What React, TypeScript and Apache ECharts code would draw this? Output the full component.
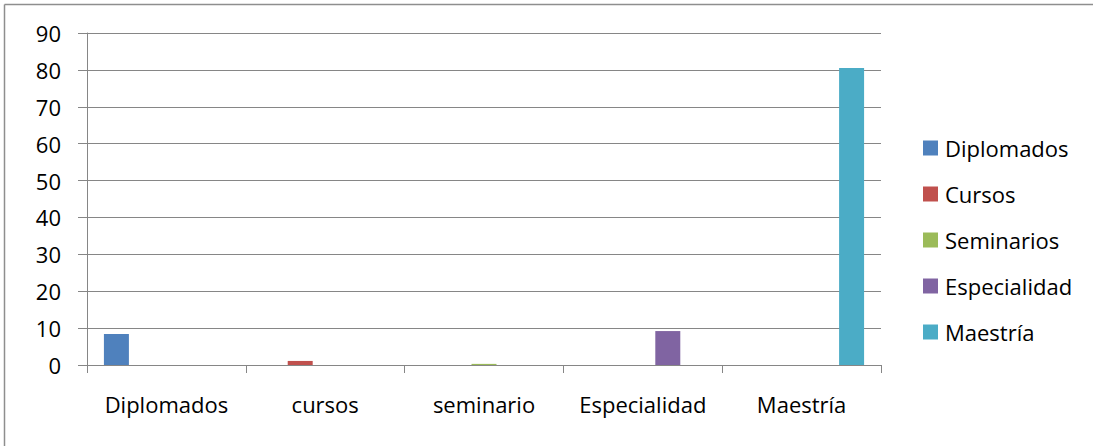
import React, { useEffect, useRef } from "react";
import * as echarts from "echarts";

const categories = ["Diplomados", "cursos", "seminario", "Especialidad", "Maestría"];
const seriesNames = ["Diplomados", "Cursos", "Seminarios", "Especialidad", "Maestría"];
const diplomados = [8.4, 0, 0, 0, 0];
const cursos = [0, 1.1, 0, 0, 0];
const seminarios = [0, 0, 0.3, 0, 0];
const especialidad = [0, 0, 0, 9.2, 0];
const maestria = [0, 0, 0, 0, 80.5];
const colors = ["#4F81BD", "#C0504D", "#9BBB59", "#8064A2", "#4BACC6"];

const FONT = "'Open Sans', 'Noto Sans', sans-serif";

export default function App() {
  const ref = useRef<HTMLDivElement>(null);
  useEffect(() => {
    document.body.style.margin = "0";
    if (!ref.current) return;
    const chart = echarts.init(ref.current, null, { renderer: "svg" });
    const values = [diplomados, cursos, seminarios, especialidad, maestria];
    chart.setOption({
      animation: false,
      backgroundColor: "#ffffff",
      textStyle: { fontFamily: FONT },
      graphic: [
        { type: "line", shape: { x1: 4.5, y1: 4.5, x2: 1093, y2: 4.5 }, style: { stroke: "#8e8e8e", lineWidth: 1.5 } },
        { type: "line", shape: { x1: 4.5, y1: 4.5, x2: 4.5, y2: 446 }, style: { stroke: "#8e8e8e", lineWidth: 1.5 } },
      ],
      grid: { left: 87, right: 212, top: 33, bottom: 81, containLabel: false },
      legend: {
        orient: "vertical",
        left: 923,
        top: 137,
        padding: 0,
        icon: "rect",
        itemWidth: 15,
        itemHeight: 15,
        itemGap: 24,
        data: seriesNames,
        textStyle: { fontFamily: FONT, fontSize: 22, color: "#000", lineHeight: 22, padding: [0, 0, 0, 2] },
      },
      xAxis: {
        type: "category",
        data: categories,
        axisLine: { lineStyle: { color: "#868686", width: 1 } },
        axisTick: { show: true, length: 8, alignWithLabel: false, lineStyle: { color: "#868686" } },
        axisLabel: { fontFamily: FONT, fontSize: 22, color: "#000", margin: 28, interval: 0 },
      },
      yAxis: {
        type: "value",
        min: 0,
        max: 90,
        interval: 10,
        axisLine: { show: true, lineStyle: { color: "#868686", width: 1 } },
        axisTick: { show: true, length: 9, lineStyle: { color: "#868686" } },
        splitLine: { show: true, lineStyle: { color: "#868686", width: 1 } },
        axisLabel: { fontFamily: FONT, fontSize: 22, color: "#000", margin: 26 },
      },
      series: seriesNames.map((name, i) => ({
        name,
        type: "bar",
        data: values[i],
        barGap: "0%",
        barCategoryGap: "21.3%",
        itemStyle: { color: colors[i] },
      })),
    });
    return () => chart.dispose();
  }, []);
  return <div ref={ref} style={{ width: 1093, height: 446 }} />;
}
